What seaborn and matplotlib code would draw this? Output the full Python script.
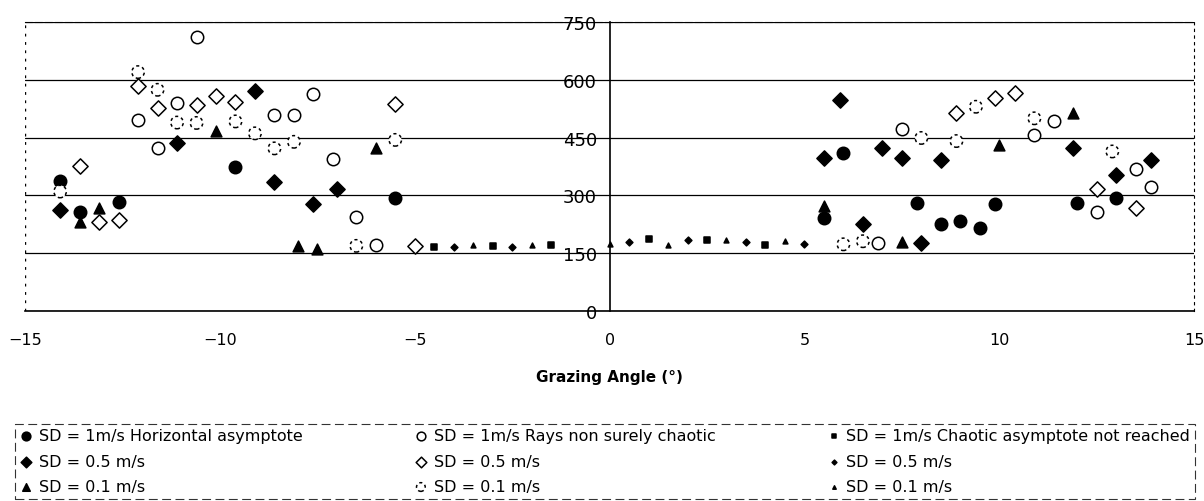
import matplotlib
matplotlib.use('Agg')
import matplotlib.pyplot as plt
import seaborn as sns

# SD = 1 m/s, horizontal asymptote (filled circles)
h1_x = [-14.1, -13.6, -12.6, -9.6, -5.5, 5.5, 6.0, 7.9, 8.5, 9.0, 9.5, 9.9, 12.0, 13.0]
h1_y = [337, 258, 283, 373, 293, 242, 411, 280, 227, 233, 216, 278, 281, 293]
# SD = 0.5 m/s, horizontal asymptote (filled diamonds)
h05_x = [-14.1, -11.1, -9.1, -8.6, -7.6, -7.0, 5.5, 5.9, 6.5, 7.0, 7.5, 8.0, 8.5, 11.9, 13.0, 13.9]
h05_y = [261, 435, 571, 336, 278, 316, 397, 547, 225, 424, 398, 176, 391, 424, 354, 392]
# SD = 0.1 m/s, horizontal asymptote (filled triangles)
h01_x = [-13.6, -13.1, -10.1, -8.0, -7.5, -6.0, 5.5, 7.5, 10.0, 11.9]
h01_y = [230, 268, 466, 168, 161, 423, 273, 180, 431, 515]

# rays non surely chaotic
r1_x = [-12.1, -11.6, -11.1, -10.6, -8.6, -8.1, -7.6, -7.1, -6.5, -6.0, 6.9, 7.5, 10.9, 11.4, 12.5, 13.5, 13.9]
r1_y = [495, 424, 540, 710, 509, 508, 563, 394, 244, 172, 177, 473, 456, 494, 256, 368, 323]
r05_x = [-13.6, -13.1, -12.6, -12.1, -11.6, -10.6, -10.1, -9.6, -5.5, -5.0, 8.9, 9.9, 10.4, 12.5, 13.5]
r05_y = [375, 232, 236, 584, 528, 535, 557, 542, 537, 169, 513, 554, 565, 316, 267]
r01_x = [-14.1, -12.1, -11.6, -11.1, -10.6, -9.6, -9.1, -8.6, -8.1, -6.5, -5.5, 6.0, 6.5, 8.0, 8.9, 9.4, 10.9, 12.9]
r01_y = [310, 620, 574, 489, 488, 492, 461, 422, 439, 169, 444, 173, 181, 449, 441, 530, 500, 414]

# chaotic asymptote not reached
c1_x = [-4.5, -3.0, -1.5, 1.0, 2.5, 4.0]
c1_y = [165, 168, 172, 188, 183, 170]
c05_x = [-4.0, -2.5, 0.5, 2.0, 3.5, 5.0]
c05_y = [167, 166, 178, 183, 180, 175]
c01_x = [-3.5, -2.0, 0.0, 1.5, 3.0, 4.5]
c01_y = [170, 170, 174, 170, 185, 182]

sns.set_style("white")
plt.rcParams['font.family'] = ['DejaVu Sans']
plt.rcParams['text.color'] = 'black'
plt.rcParams['axes.labelcolor'] = 'black'
plt.rcParams['xtick.color'] = 'black'
plt.rcParams['ytick.color'] = 'black'

fig = plt.figure(figsize=(12.04, 5.02), dpi=100)
ax = fig.add_axes([0.0208, 0.3785, 0.971, 0.5757])

series = [
    (h1_x, h1_y, 'SD = 1m/s Horizontal asymptote', 'o', 80, 'black', '-'),
    (h05_x, h05_y, 'SD = 0.5 m/s', 'D', 60, 'black', '-'),
    (h01_x, h01_y, 'SD = 0.1 m/s', '^', 60, 'black', '-'),
    (r1_x, r1_y, 'SD = 1m/s Rays non surely chaotic', 'o', 80, 'white', '-'),
    (r05_x, r05_y, 'SD = 0.5 m/s', 'D', 60, 'white', '-'),
    (r01_x, r01_y, 'SD = 0.1 m/s', 'o', 80, 'white', (0, (2, 2))),
    (c1_x, c1_y, 'SD = 1m/s Chaotic asymptote not reached', 's', 14, 'black', '-'),
    (c05_x, c05_y, 'SD = 0.5 m/s', 'D', 12, 'black', '-'),
    (c01_x, c01_y, 'SD = 0.1 m/s', '^', 12, 'black', '-'),
]
for xs, ys, lab, mk, sz, fc, ls in series:
    sns.scatterplot(x=xs, y=ys, ax=ax, marker=mk, s=sz, color=fc,
                    edgecolor='black', linewidth=1.1, linestyle=ls,
                    label=lab, zorder=3)

ax.set_xlim(-15, 15)
ax.set_ylim(0, 750)
ax.set_xticks(range(-15, 16, 5))
ax.set_yticks(range(0, 751, 150))
ax.yaxis.grid(True, color='black', linewidth=0.9)
ax.set_axisbelow(True)

# y axis drawn through x = 0
ax.spines['left'].set_position(('data', 0))
ax.spines['left'].set_linewidth(1.2)
ax.spines['bottom'].set_linewidth(1.2)
ax.spines['right'].set_linestyle((0, (2, 4)))
ax.spines['top'].set_linestyle((0, (6, 3)))
for s in ax.spines.values():
    s.set_edgecolor('black')
ax.axvline(-15, color='black', linewidth=1, linestyle=(0, (2, 4)))
ax.tick_params(axis='y', direction='inout', length=10, width=1, labelsize=13, pad=4)
ax.tick_params(axis='x', direction='inout', length=6, width=1, labelsize=11.5, pad=12)

ax.set_xlabel('Grazing Angle (°)', fontsize=11, fontweight='bold', labelpad=16)
ax.set_ylabel('')

handles, labels = ax.get_legend_handles_labels()
ax.get_legend().remove()
leg = fig.legend(handles, labels, ncol=3, mode='expand', loc='lower left',
                 bbox_to_anchor=(15 / 1204, 2 / 502, 1180 / 1204, 86 / 502),
                 bbox_transform=fig.transFigure, fontsize=11.5,
                 frameon=True, fancybox=False, edgecolor='black',
                 handlelength=0.8, handletextpad=0.4, labelspacing=0.65,
                 borderaxespad=0, borderpad=0.3, markerscale=0.7)
leg.get_frame().set_linewidth(0.8)
leg.get_frame().set_linestyle((0, (8, 4)))

fig.savefig('out.png', dpi=100)
